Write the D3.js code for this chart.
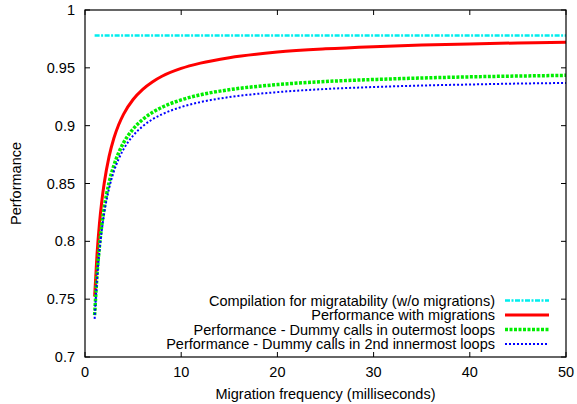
<!DOCTYPE html>
<html><head><meta charset="utf-8">
<script src="https://cdn.jsdelivr.net/npm/d3@7"></script>
<style>
html,body{margin:0;padding:0;background:#fff;}
text{font-family:"Liberation Sans",Arial,Helvetica,sans-serif;fill:#000;}
</style></head>
<body>
<svg id="chart" width="577" height="404"></svg>
<script>
const freq = [1,1.25,1.5,1.75,2,2.5,3,3.5,4,5,6,7,8,10,12,15,20,25,30,35,40,45,50];
const baseline = [0.978,0.978];
const baselineX = [1,50];
const withMigrations = [0.7523,0.7887,0.8150,0.8349,0.8504,0.8732,0.8891,0.9008,0.9098,0.9226,0.9314,0.9378,0.9427,0.9495,0.9541,0.9588,0.9636,0.9664,0.9683,0.9697,0.9707,0.9715,0.9722];
const dummyOuter = [0.7362,0.7708,0.7957,0.8145,0.8292,0.8507,0.8656,0.8766,0.8851,0.8971,0.9054,0.9114,0.9159,0.9223,0.9267,0.9311,0.9355,0.9382,0.9399,0.9412,0.9422,0.9429,0.9435];
const dummyInner = [0.7330,0.7670,0.7916,0.8101,0.8245,0.8457,0.8604,0.8712,0.8795,0.8914,0.8995,0.9054,0.9098,0.9161,0.9204,0.9247,0.9290,0.9317,0.9334,0.9347,0.9356,0.9364,0.9369];
const xTicks = [0,10,20,30,40,50];
const yTicks = [0.7,0.75,0.8,0.85,0.9,0.95,1];
const yTickLabels = ["0.7","0.75","0.8","0.85","0.9","0.95","1"];
const legendLabels = ["Compilation for migratability (w/o migrations)","Performance with migrations","Performance - Dummy calls in outermost loops","Performance - Dummy calls in 2nd innermost loops"];

const svg = d3.select("#chart");
const L=85, R=566, T=10, B=357;
const x = d3.scaleLinear().domain([0,50]).range([L,R]);
const y = d3.scaleLinear().domain([0.7,1]).range([B,T]);
const fs = "14.5px";

const styles = [
  {color:"#00eeee", width:2.5, dash:"5,1.5,2,1.5"},
  {color:"#ff0000", width:3, dash:null},
  {color:"#00ee00", width:3.5, dash:"3,1.5"},
  {color:"#0000ff", width:2, dash:"2,2"}
];

// axes ticks (inward, all sides)
const g = svg.append("g");
xTicks.forEach(t=>{
  g.append("line").attr("x1",x(t)).attr("x2",x(t)).attr("y1",B).attr("y2",B-5).attr("stroke","#000");
  g.append("line").attr("x1",x(t)).attr("x2",x(t)).attr("y1",T).attr("y2",T+5).attr("stroke","#000");
  g.append("text").attr("x",x(t)).attr("y",B+20).attr("text-anchor","middle").style("font-size",fs).text(t);
});
yTicks.forEach((t,i)=>{
  g.append("line").attr("x1",L).attr("x2",L+5).attr("y1",y(t)).attr("y2",y(t)).attr("stroke","#000");
  g.append("line").attr("x1",R).attr("x2",R-5).attr("y1",y(t)).attr("y2",y(t)).attr("stroke","#000");
  g.append("text").attr("x",L-10).attr("y",y(t)+5).attr("text-anchor","end").style("font-size",fs).text(yTickLabels[i]);
});

const line = d3.line().x(d=>x(d[0])).y(d=>y(d[1])).curve(d3.curveMonotoneX);
const series = [
  baselineX.map((v,i)=>[v,baseline[i]]),
  freq.map((v,i)=>[v,withMigrations[i]]),
  freq.map((v,i)=>[v,dummyOuter[i]]),
  freq.map((v,i)=>[v,dummyInner[i]])
];
series.forEach((s,i)=>{
  const st=styles[i];
  const p=svg.append("path").datum(s).attr("d",line).attr("fill","none")
    .attr("stroke",st.color).attr("stroke-width",st.width);
  if(st.dash) p.attr("stroke-dasharray",st.dash);
});

// legend
const legY=[300.5,315,329.5,344];
legendLabels.forEach((lab,i)=>{
  const st=styles[i];
  svg.append("text").attr("x",495).attr("y",legY[i]+5).attr("text-anchor","end").style("font-size",fs).text(lab);
  const p=svg.append("line").attr("x1",505).attr("x2",549).attr("y1",legY[i]).attr("y2",legY[i])
    .attr("stroke",st.color).attr("stroke-width",st.width);
  if(st.dash) p.attr("stroke-dasharray",st.dash);
});

// frame
svg.append("rect").attr("x",L).attr("y",T).attr("width",R-L).attr("height",B-T)
  .attr("fill","none").attr("stroke","#000").attr("stroke-width",1.2);

// axis titles
svg.append("text").attr("x",(L+R)/2).attr("y",399).attr("text-anchor","middle").style("font-size",fs).text("Migration frequency (milliseconds)");
svg.append("text").attr("transform",`translate(21,${(T+B)/2}) rotate(-90)`).attr("text-anchor","middle").style("font-size",fs).text("Performance");
</script>
</body></html>
